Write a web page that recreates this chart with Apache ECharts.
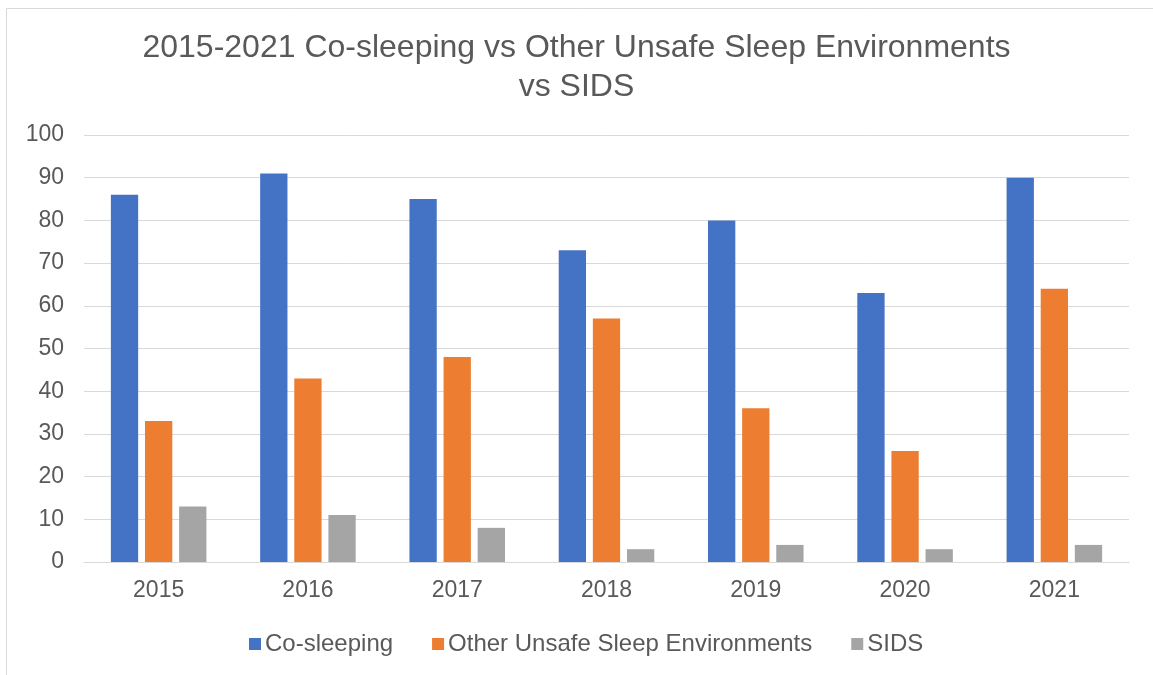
<!DOCTYPE html>
<html><head><meta charset="utf-8">
<script src="https://cdn.jsdelivr.net/npm/echarts@6/dist/echarts.min.js"></script>
<style>html,body{margin:0;padding:0;background:#fff}#c{width:1153px;height:675px}</style>
</head><body><div id="c"></div>
<script>
const years = ['2015','2016','2017','2018','2019','2020','2021'];
const coSleeping = [86, 91, 85, 73, 80, 63, 90];
const otherUnsafe = [33, 43, 48, 57, 36, 26, 64];
const sids = [13, 11, 8, 3, 4, 3, 4];
const seriesNames = ['Co-sleeping', 'Other Unsafe Sleep Environments', 'SIDS'];
const colors = ['#4472C4', '#ED7D31', '#A5A5A5'];

const chart = echarts.init(document.getElementById('c'));
const font = 'Liberation Sans, Arial, sans-serif';
chart.setOption({
  animation: false,
  color: colors,
  graphic: [{type:'rect', shape:{x:6.5,y:8.5,width:1200,height:700}, style:{fill:'none', stroke:'#d9d9d9', lineWidth:1}, silent:true}],
  title: {
    text: '2015-2021 Co-sleeping vs Other Unsafe Sleep Environments\nvs SIDS',
    left: 'center', top: 24,
    textStyle: {fontFamily: font, fontSize: 32, fontWeight: 'normal', color: '#595959', lineHeight: 39}
  },
  legend: {
    bottom: 14, left: 244, itemWidth: 12, itemHeight: 12, itemGap: 39,
    icon: 'rect',
    textStyle: {fontFamily: font, fontSize: 24, color: '#595959', padding:[0,0,0,-1]},
    data: seriesNames
  },
  grid: {left: 84, right: 24, top: 135, bottom: 113},
  xAxis: {
    type: 'category', data: years,
    axisLine: {lineStyle: {color: '#d9d9d9', width: 1}},
    axisTick: {show: false},
    axisLabel: {fontFamily: font, fontSize: 23, color: '#595959', margin: 17}
  },
  yAxis: {
    type: 'value', min: 0, max: 100, interval: 10,
    axisLine: {show: false}, axisTick: {show: false},
    splitLine: {lineStyle: {color: '#d9d9d9', width: 1}},
    axisLabel: {fontFamily: font, fontSize: 23, color: '#595959', margin: 20}
  },
  series: [
    {name: seriesNames[0], type: 'bar', data: coSleeping, barGap: '25%', barCategoryGap: '36%'},
    {name: seriesNames[1], type: 'bar', data: otherUnsafe, barGap: '25%', barCategoryGap: '36%'},
    {name: seriesNames[2], type: 'bar', data: sids, barGap: '25%', barCategoryGap: '36%'}
  ]
});
</script></body></html>
